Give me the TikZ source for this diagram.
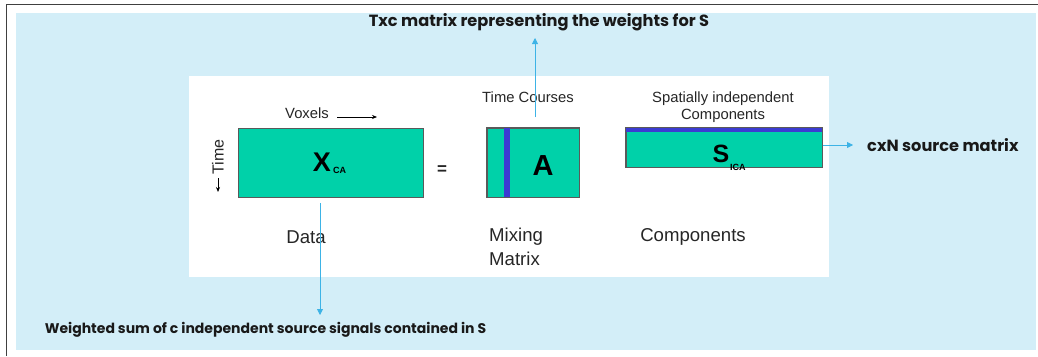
\documentclass[tikz,border=0pt]{standalone}
\usepackage{fontspec}
\setmainfont{Liberation Sans}[BoldFont={Liberation Sans Bold}]
\newfontfamily\lsbold{Liberation Sans Bold}
\newfontfamily\annfont{Poppins}
\usetikzlibrary{arrows.meta}
\definecolor{bgblue}{HTML}{D3EEF8}
\definecolor{teal}{HTML}{00D1A9}
\definecolor{stripe}{HTML}{3C3CD2}
\definecolor{matborder}{HTML}{5A5A5A}
\definecolor{conn}{HTML}{3DB3E6}
\tikzset{
  x=1pt, y=-1pt,
  mat/.style={fill=teal, draw=matborder, line width=1pt, inner sep=0pt},
  lbl/.style={inner sep=0pt, text=black!85},
  small/.style={font=\fontsize{14.8}{17}\selectfont},
  big/.style={font=\fontsize{18.6}{24}\selectfont},
  ann/.style={inner sep=0pt, font=\annfont\bfseries\fontsize{16.2}{18}\selectfont, text=black!90},
  conn/.style={draw=conn, line width=0.8pt, -{Triangle[width=6pt,length=6pt]}},
  axarrow/.style={-{Stealth[length=5pt,width=4pt]}, line width=0.7pt},
}
\begin{document}
\begin{tikzpicture}
\useasboundingbox (0,0) rectangle (1038,356);
% frame and backgrounds
\fill[bgblue] (16,13) rectangle (1036,350);
\draw[line width=1.5pt, black!75] (6.5,356) -- (6.5,4.5) -- (1038,4.5);
\fill[white] (189,76) rectangle (829,277);

% matrices
\node[mat, minimum width=185pt, minimum height=69pt] (X) at (330.5,162.5) {};
\node[mat, minimum width=92pt, minimum height=69pt] (A) at (533,162.5) {};
\fill[stripe] (504,128) rectangle (510,197);
\draw[matborder, line width=1pt] (A.north west) rectangle (A.south east);
\node[mat, minimum width=196pt, minimum height=39pt] (S) at (724,147.5) {};
\fill[stripe] (626,128) rectangle (822,132);
\draw[matborder, line width=1pt] (S.north west) rectangle (S.south east);

% matrix letters
\node[lbl, text=black, font=\lsbold\fontsize{27}{28}\selectfont] (Xl) at (322,162) {X};
\node[lbl, text=black, font=\lsbold\fontsize{9}{10}\selectfont, anchor=west] (Xs) at (333,170) {CA};
\node[lbl, text=black, font=\lsbold\fontsize{29}{30}\selectfont] (Al) at (543,166) {A};
\node[lbl, text=black, font=\lsbold\fontsize{25}{27}\selectfont] (Sl) at (721,154) {S};
\node[lbl, text=black, font=\lsbold\fontsize{9}{10}\selectfont, anchor=west] (Ss) at (730,167) {ICA};

% axis labels
\node[lbl, small] (vox) at (307,113) {Voxels};
\coordinate (voxa) at (337,117);
\coordinate (voxb) at (377,117);
\draw[axarrow] (voxa) -- (voxb);
\node[lbl, font=\fontsize{16}{18}\selectfont, rotate=90] (time) at (218,157) {Time};
\coordinate (ta) at (218,178);
\coordinate (tb) at (218,192);
\draw[axarrow] (ta) -- (tb);

\node[lbl, font=\lsbold\fontsize{17}{18}\selectfont] (eq) at (442,170) {=};

\node[lbl, small] (tc) at (528,97) {Time Courses};
\node[lbl, small, align=center] (sic) at (723,107) {Spatially independent\\[0pt]Components};

% bottom labels
\node[lbl, big] (data) at (306,237) {Data};
\node[lbl, big, align=left, anchor=north west] (mix) at (489,228) {Mixing\\Matrix};
\node[lbl, big] (comp) at (693,237) {Components};

% annotations
\node[ann] (txc) at (539,22) {Txc matrix representing the weights for S};
\node[ann, anchor=west] (cxn) at (867,145) {cxN source matrix};
\node[ann, font=\annfont\bfseries\fontsize{14}{16}\selectfont] (ws) at (265.5,330) {Weighted sum of c independent source signals contained in S};

% connectors
\coordinate (up0) at (535,117);
\draw[conn] (up0) -- (up0 |- 0,38);
\draw[conn] (S.east |- 0,145) -- (853,145);
\coordinate (dn0) at (320,203);
\draw[conn] (dn0) -- (dn0 |- 0,315);
\end{tikzpicture}
\end{document}
